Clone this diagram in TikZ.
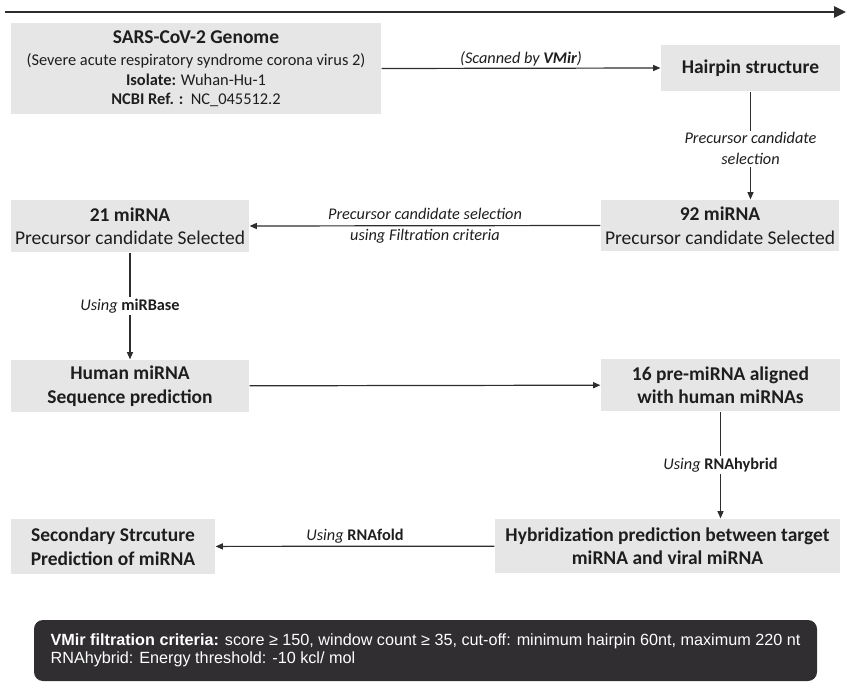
\documentclass[tikz,border=0pt]{standalone}
\usepackage{fontspec}
\setmainfont{Carlito}
\newfontfamily\criteriafont{Liberation Sans}
\usetikzlibrary{arrows.meta}
\definecolor{boxgray}{RGB}{230,230,230}
\definecolor{linegray}{RGB}{45,45,45}
\definecolor{notegray}{RGB}{48,46,48}
\definecolor{inkgray}{RGB}{30,30,30}
\tikzset{
	every path/.style={line width=1.2pt},
	align=center,
	stage/.style={
		rectangle,
		fill=boxgray,
		text=inkgray,
		inner sep=0pt,
		font=\fontsize{19.5}{23.5}\selectfont,
	},
	flow/.style={
		draw=linegray,
		-{Triangle[angle=45:8pt 0]}
	},
	how/.style={
		text=inkgray,
		inner sep=2pt,
		font=\fontsize{16.3}{21}\selectfont\itshape,
	},
	gap/.style={fill=white},
	timeline/.style={
		draw=linegray,
		line width=2.4pt,
		-{Triangle[angle=50:13pt 0]}
	},
	note/.style={
		rectangle,
		rounded corners=9pt,
		fill=notegray,
		text=white,
		align=left,
		font=\criteriafont\fontsize{16.2}{18}\selectfont,
	},
}

\begin{document}
\begin{tikzpicture}[
		x=1pt, y=-1pt,
		note/.append style={minimum width=783, minimum height=61},
	]
		\useasboundingbox (0,0) rectangle (847,682);

		\coordinate (start) at (5,12);
		\coordinate (end) at (846,12);
		\draw[timeline] (start) -- (end);

		\node[stage, minimum width=370, minimum height=91, font=\fontsize{16.4}{19.5}\selectfont] (genome) at (196,68.5)
			{{\bfseries\fontsize{19.5}{20}\selectfont SARS-CoV-2 Genome}\\[3pt]
			(Severe acute respiratory syndrome corona virus 2)\\
			\textbf{Isolate:} Wuhan-Hu-1\\
			\textbf{NCBI Ref. :}\ \ NC\_045512.2};
		\node[stage, minimum width=179, minimum height=46] (hairpin) at (750.5,68) {\textbf{Hairpin structure}};
		\node[stage, minimum width=238, minimum height=51] (pre92) at (720,225.5) {\textbf{92 miRNA}\\Precursor candidate Selected};
		\node[stage, minimum width=238, minimum height=52] (pre21) at (130,226) {\textbf{21 miRNA}\\Precursor candidate Selected};
		\node[stage, minimum width=238, minimum height=52] (human) at (130,386) {\textbf{Human miRNA}\\\textbf{Sequence prediction}};
		\node[stage, minimum width=239, minimum height=52] (aligned) at (720.5,385) {\textbf{16 pre-miRNA aligned}\\\textbf{with human miRNAs}};
		\node[stage, minimum width=345, minimum height=54] (hybrid) at (667.5,546) {\textbf{Hybridization prediction between target}\\\textbf{miRNA and viral miRNA}};
		\node[stage, minimum width=204, minimum height=55] (second) at (113,546.5) {\textbf{Secondary Strcuture}\\\textbf{Prediction of miRNA}};

		\node[note] (criteria) at (425.5,650.5) {\textbf{VMir filtration criteria:} score ≥ 150, window count ≥ 35, cut-off: minimum hairpin 60nt, maximum 220 nt\\RNAhybrid: Energy threshold: -10 kcl/ mol};

		\draw[flow] (genome.east) -- node[how, above] {(Scanned by \textbf{VMir})} (hairpin.west);
		\draw[flow] (hairpin.south) -- node[how, gap, pos=0.53] {Precursor candidate\\selection} (hairpin.south |- pre92.north);
		\draw[flow] (pre92.west) -- node[how] {Precursor candidate selection\\using Filtration criteria} (pre21.east);
		\draw[flow] (pre21) -- node[how, gap] {Using \textup{\bfseries miRBase}} (human);
		\draw[flow] (human) -- (aligned);
		\draw[flow] (aligned.south) -- node[how, gap] {Using \textup{\bfseries RNAhybrid}} (aligned.south |- hybrid.north);
		\draw[flow] (hybrid) -- node[how, above] {Using \textup{\bfseries RNAfold}} (second);

	\end{tikzpicture}
\end{document}
